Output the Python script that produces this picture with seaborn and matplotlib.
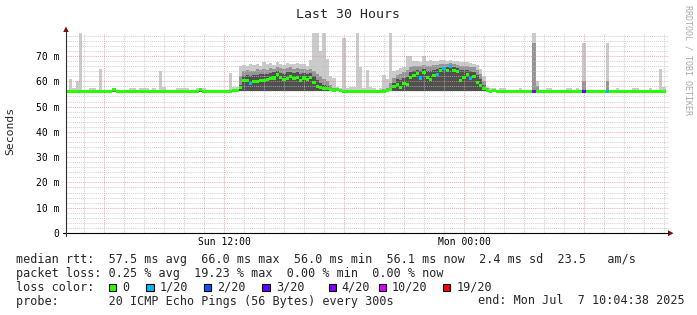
import matplotlib
matplotlib.use("Agg")
import numpy as np
import pandas as pd
import seaborn as sns
import matplotlib.pyplot as plt
from matplotlib.patches import Polygon, Rectangle
from matplotlib.lines import Line2D
from datetime import datetime, timedelta

# ---------------- data (10-minute steps, 30 hours) ----------------
END_TIME = datetime(2025, 7, 7, 10, 4, 38)
SPAN_HOURS = 30
STEP_MINUTES = 10

median_ms = [
    56.1, 56.1, 56.1, 56.1, 56.1, 56.1, 56.1, 56.1, 56.1, 56.1,
    56.1, 56.1, 56.1, 56.1, 56.6, 56.1, 56.1, 56.1, 56.1, 56.1,
    56.1, 56.1, 56.1, 56.1, 56.1, 56.1, 56.1, 56.1, 56.1, 56.1,
    56.1, 56.1, 56.1, 56.1, 56.1, 56.1, 56.1, 56.1, 56.1, 56.1,
    56.6, 56.1, 56.1, 56.1, 56.1, 56.1, 56.1, 56.1, 56.1, 56.1,
    56.2, 56.5, 57.5, 60.5, 60.2, 59.0, 59.8, 60.0, 60.4, 60.5,
    60.8, 61.0, 61.3, 62.8, 61.5, 60.8, 61.2, 61.8, 61.0, 61.5,
    60.5, 61.3, 60.8, 61.5, 59.5, 58.0, 57.5, 57.3, 57.2, 56.6,
    56.3, 56.8, 56.2, 56.1, 56.1, 56.1, 56.1, 56.1, 56.1, 56.1,
    56.1, 56.1, 56.1, 56.1, 56.1, 56.1, 56.4, 56.8, 58.0, 58.9,
    57.6, 59.3, 58.7, 61.5, 62.4, 63.2, 61.3, 63.6, 61.5, 60.6,
    62.2, 62.8, 64.2, 64.9, 64.2, 65.9, 64.2, 63.9, 60.2, 61.5,
    62.6, 61.0, 62.0, 59.7, 58.4, 57.0, 56.2, 56.1, 56.5, 56.1,
    56.1, 56.1, 56.1, 56.1, 56.1, 56.1, 56.1, 56.1, 56.1, 56.1,
    56.1, 56.1, 56.1, 56.1, 56.1, 56.1, 56.1, 56.1, 56.1, 56.1,
    56.1, 56.1, 56.1, 56.1, 56.1, 56.1, 56.1, 56.1, 56.1, 56.1,
    56.1, 56.1, 56.1, 56.1, 56.1, 56.1, 56.1, 56.1, 56.1, 56.1,
    56.1, 56.1, 56.1, 56.1, 56.1, 56.1, 56.1, 56.1, 56.1, 56.1,
]

rtt_min = [
    55.8, 55.8, 55.8, 55.8, 55.8, 55.8, 55.8, 55.8, 55.8, 55.8,
    55.8, 55.8, 55.8, 55.8, 55.8, 55.8, 55.8, 55.8, 55.8, 55.8,
    55.8, 55.8, 55.8, 55.8, 55.8, 55.8, 55.8, 55.8, 55.8, 55.8,
    55.8, 55.8, 55.8, 55.8, 55.8, 55.8, 55.8, 55.8, 55.8, 55.8,
    55.8, 55.8, 55.8, 55.8, 55.8, 55.8, 55.8, 55.8, 55.8, 55.8,
    55.8, 55.8, 56.2, 56.2, 56.2, 56.2, 56.2, 56.2, 56.2, 56.2,
    56.2, 56.2, 56.2, 56.2, 56.2, 56.2, 56.2, 56.2, 56.2, 56.2,
    56.2, 56.2, 56.2, 56.2, 56.2, 56.2, 56.2, 56.2, 56.2, 56.2,
    56.2, 56.2, 56.2, 55.8, 55.8, 55.8, 55.8, 55.8, 55.8, 55.8,
    55.8, 55.8, 55.8, 55.8, 55.8, 55.8, 55.8, 56.2, 56.2, 56.2,
    56.2, 56.2, 56.2, 56.2, 56.2, 56.2, 56.2, 56.2, 56.2, 56.2,
    56.2, 56.2, 56.2, 56.2, 56.2, 56.2, 56.2, 56.2, 56.2, 56.2,
    56.2, 56.2, 56.2, 56.2, 56.2, 56.2, 56.2, 55.8, 55.8, 55.8,
    55.8, 55.8, 55.8, 55.8, 55.8, 55.8, 55.8, 55.8, 55.8, 55.8,
    55.8, 55.8, 55.8, 55.8, 55.8, 55.8, 55.8, 55.8, 55.8, 55.8,
    55.8, 55.8, 55.8, 55.8, 55.8, 55.8, 55.8, 55.8, 55.8, 55.8,
    55.8, 55.8, 55.8, 55.8, 55.8, 55.8, 55.8, 55.8, 55.8, 55.8,
    55.8, 55.8, 55.8, 55.8, 55.8, 55.8, 55.8, 55.8, 55.8, 55.8,
]

rtt_p75 = [
    56.2, 56.2, 56.2, 56.2, 56.2, 56.2, 56.2, 56.2, 56.2, 56.2,
    56.2, 56.2, 56.2, 56.2, 56.2, 56.2, 56.2, 56.2, 56.2, 56.2,
    56.2, 56.2, 56.2, 56.2, 56.2, 56.2, 56.2, 56.2, 56.2, 56.2,
    56.2, 56.2, 56.2, 56.2, 56.2, 56.2, 56.2, 56.2, 56.2, 56.2,
    56.2, 56.2, 56.2, 56.2, 56.2, 56.2, 56.2, 56.2, 56.2, 56.2,
    56.2, 56.8, 58.5, 62.0, 62.5, 62.0, 62.3, 62.5, 62.8, 63.0,
    62.8, 63.2, 63.5, 64.0, 63.4, 63.0, 63.5, 63.8, 63.2, 63.6,
    63.0, 63.4, 63.0, 63.2, 62.0, 60.5, 59.5, 58.5, 58.0, 57.2,
    56.8, 57.0, 56.4, 56.3, 56.2, 56.2, 56.2, 56.2, 56.2, 56.2,
    56.2, 56.2, 56.2, 56.2, 56.2, 56.4, 56.8, 57.5, 59.5, 61.0,
    60.5, 61.5, 61.8, 63.5, 64.0, 64.5, 64.0, 65.0, 64.2, 64.0,
    64.5, 64.8, 65.2, 65.8, 65.5, 66.5, 65.5, 65.2, 64.5, 64.5,
    64.5, 64.0, 63.8, 62.5, 61.0, 58.5, 56.6, 56.2, 56.2, 56.2,
    56.2, 56.2, 56.2, 56.2, 56.2, 56.2, 56.2, 56.2, 56.2, 56.2,
    56.2, 56.2, 56.2, 56.2, 56.2, 56.2, 56.2, 56.2, 56.2, 56.2,
    56.2, 56.2, 56.2, 56.2, 56.2, 56.2, 56.2, 56.2, 56.2, 56.2,
    56.2, 56.2, 56.2, 56.2, 56.2, 56.2, 56.2, 56.2, 56.2, 56.2,
    56.2, 56.2, 56.2, 56.2, 56.2, 56.2, 56.2, 56.2, 56.2, 56.2,
]

rtt_p90 = [
    56.4, 56.4, 56.4, 56.4, 56.4, 56.4, 56.4, 56.4, 56.4, 56.4,
    56.4, 56.4, 56.4, 56.4, 56.4, 56.4, 56.4, 56.4, 56.4, 56.4,
    56.4, 56.4, 56.4, 56.4, 56.4, 56.4, 56.4, 56.4, 56.4, 56.4,
    56.4, 56.4, 56.4, 56.4, 56.4, 56.4, 56.4, 56.4, 56.4, 56.4,
    56.4, 56.4, 56.4, 56.4, 56.4, 56.4, 56.4, 56.4, 56.4, 56.4,
    56.4, 57.0, 62.0, 64.0, 64.5, 64.0, 64.2, 64.8, 64.5, 65.0,
    64.6, 65.2, 65.0, 65.5, 65.2, 64.8, 65.3, 65.5, 65.0, 65.4,
    64.8, 65.0, 64.6, 64.8, 64.0, 63.0, 62.0, 61.0, 60.0, 58.5,
    57.5, 57.3, 56.6, 56.5, 56.4, 56.4, 56.4, 56.4, 56.4, 56.4,
    56.4, 56.4, 56.4, 56.4, 56.4, 56.8, 57.5, 59.5, 61.5, 62.5,
    63.0, 63.5, 64.5, 65.5, 66.0, 66.2, 66.0, 66.5, 66.0, 66.2,
    66.5, 66.4, 66.8, 67.0, 66.8, 67.3, 66.8, 66.5, 66.2, 66.0,
    66.0, 65.8, 65.5, 64.5, 63.0, 60.0, 57.2, 56.4, 56.4, 56.4,
    56.4, 56.4, 56.4, 56.4, 56.4, 56.4, 56.4, 56.4, 56.4, 56.4,
    75.0, 58.0, 56.4, 56.4, 56.4, 56.4, 56.4, 56.4, 56.4, 56.4,
    56.4, 56.4, 56.4, 56.4, 56.4, 60.0, 56.4, 56.4, 56.4, 56.4,
    56.4, 56.4, 60.0, 56.4, 56.4, 56.4, 56.4, 56.4, 56.4, 56.4,
    56.4, 56.4, 56.4, 56.4, 56.4, 56.4, 56.4, 56.4, 56.4, 56.4,
]

rtt_max = [
    56.5, 60.9, 57.2, 60.3, 79.1, 56.5, 56.5, 57.2, 57.2, 56.5,
    64.8, 56.5, 56.5, 56.5, 57.2, 56.5, 56.5, 56.5, 56.5, 57.2,
    57.2, 56.5, 57.2, 57.2, 57.2, 56.5, 57.2, 56.5, 63.9, 57.7,
    56.5, 56.5, 56.5, 57.2, 57.2, 57.2, 57.2, 56.5, 56.5, 57.2,
    56.5, 57.2, 56.5, 56.5, 56.5, 56.5, 56.5, 56.5, 56.5, 63.2,
    57.6, 57.6, 66.0, 66.5, 66.0, 66.8, 66.5, 67.0, 66.2, 67.5,
    66.8, 67.2, 66.5, 67.5, 67.0, 66.6, 67.2, 67.0, 66.8, 67.4,
    66.8, 67.0, 66.2, 68.5, 79.1, 79.1, 72.0, 79.1, 69.0, 62.0,
    61.3, 57.8, 57.2, 77.0, 57.2, 57.6, 57.6, 79.1, 65.5, 57.5,
    64.5, 57.6, 57.5, 56.5, 57.2, 62.5, 61.0, 79.1, 64.0, 64.5,
    65.2, 65.5, 70.0, 70.0, 68.0, 68.2, 67.8, 70.0, 68.0, 68.3,
    68.0, 68.2, 68.5, 68.6, 68.2, 68.5, 68.2, 68.0, 67.8, 67.8,
    67.5, 67.2, 67.0, 66.5, 65.0, 62.0, 57.8, 57.2, 57.2, 56.5,
    57.2, 57.2, 56.5, 56.5, 56.5, 56.5, 57.2, 56.5, 56.5, 56.5,
    79.1, 60.0, 56.5, 56.5, 57.2, 57.2, 56.5, 56.5, 56.5, 56.5,
    57.2, 57.2, 56.5, 57.2, 56.5, 75.0, 56.5, 56.5, 56.5, 56.5,
    56.5, 56.5, 75.0, 56.5, 56.5, 57.2, 56.5, 56.5, 56.5, 56.5,
    57.2, 57.2, 56.5, 56.5, 56.5, 57.2, 56.5, 56.5, 65.0, 57.7,
]

loss_count = [
    0, 0, 0, 0, 0, 0, 0, 0, 0, 0,
    0, 0, 0, 0, 0, 0, 0, 0, 0, 0,
    0, 0, 0, 0, 0, 0, 0, 0, 0, 0,
    0, 0, 0, 0, 0, 0, 0, 0, 0, 0,
    0, 0, 0, 0, 0, 0, 0, 0, 0, 0,
    0, 0, 0, 0, 0, 1, 0, 0, 0, 0,
    0, 0, 0, 0, 0, 0, 0, 0, 0, 0,
    0, 0, 0, 0, 0, 0, 0, 0, 0, 0,
    0, 0, 0, 0, 0, 0, 0, 0, 0, 0,
    0, 0, 0, 0, 0, 0, 0, 0, 0, 0,
    0, 0, 0, 0, 0, 0, 1, 0, 0, 0,
    0, 1, 0, 1, 0, 1, 0, 0, 0, 0,
    0, 1, 0, 0, 0, 0, 0, 0, 0, 0,
    0, 0, 0, 0, 0, 0, 0, 0, 0, 0,
    4, 0, 0, 0, 0, 0, 0, 0, 0, 0,
    0, 0, 0, 0, 0, 3, 0, 0, 0, 0,
    0, 0, 1, 0, 0, 0, 0, 0, 0, 0,
    0, 0, 0, 0, 0, 0, 0, 0, 0, 0,
]

loss_levels = [0, 1, 2, 3, 4, 10, 19]
loss_labels = ["0", "1/20", "2/20", "3/20", "4/20", "10/20", "19/20"]
loss_colors = ["#26ff00", "#00b8ff", "#0059ff", "#5e00ff", "#7e00ff", "#dd00ff", "#ff0000"]

y_ticks = [0, 10, 20, 30, 40, 50, 60, 70]
y_tick_labels = ["0", "10 m", "20 m", "30 m", "40 m", "50 m", "60 m", "70 m"]

title = "Last 30 Hours"
y_label = "Seconds"
stats_line1 = "median rtt:  57.5 ms avg  66.0 ms max  56.0 ms min  56.1 ms now  2.4 ms sd  23.5   am/s"
stats_line2 = "packet loss: 0.25 % avg  19.23 % max  0.00 % min  0.00 % now"
loss_title = "loss color:"
probe_line = "probe:       20 ICMP Echo Pings (56 Bytes) every 300s"
end_line = "end: Mon Jul  7 10:04:38 2025"
watermark = "RRDTOOL / TOBI OETIKER"

# ---------------- figure ----------------
W, H = 697, 315
sns.set_theme(style="white")
plt.rcParams["font.family"] = ["DejaVu Sans Mono", "DejaVu Sans"]

MONO = "DejaVu Sans Mono"
start_time = END_TIME - timedelta(hours=SPAN_HOURS)
step_h = STEP_MINUTES / 60.0

df = pd.DataFrame({
    "median": median_ms, "lo": rtt_min, "p75": rtt_p75,
    "p90": rtt_p90, "hi": rtt_max, "loss": loss_count,
})
df["t"] = np.arange(len(df)) * step_h

def fx(px):
    return px / W

def fy(py):
    return 1 - py / H

fig = plt.figure(figsize=(W / 100, H / 100), dpi=100)
fig.patch.set_facecolor("white")
ax = fig.add_axes([fx(65.5), fy(233), (668.5 - 65.5) / W, 200 / H])
ax.set_facecolor("white")

t_edges = np.append(df["t"].values, df["t"].values[-1] + step_h)

def ext(col):
    v = df[col].values
    return np.append(v, v[-1])

# smoke bands
ax.fill_between(t_edges, ext("lo"), ext("hi"), step="post", color="#cbcbcb", lw=0, zorder=1)
ax.fill_between(t_edges, ext("lo"), ext("p90"), step="post", color="#959595", lw=0, zorder=1.1)
ax.fill_between(t_edges, ext("lo"), ext("p75"), step="post", color="#505050", lw=0, zorder=1.2)

# median as thin band per step, coloured by loss
HALF = 0.6
ax.fill_between(t_edges, ext("median") - HALF, ext("median") + HALF, step="post",
                color=loss_colors[0], lw=0, zorder=2)

def color_for(l):
    c = loss_colors[0]
    for lv, col in zip(loss_levels, loss_colors):
        if l >= lv:
            c = col
    return c

lossy = df[df["loss"] > 0]
ax.bar(lossy["t"], 2 * HALF, bottom=lossy["median"] - HALF, width=step_h, align="edge",
       color=[color_for(l) for l in lossy["loss"]], linewidth=0, zorder=2.1)

# axes limits
total_w_h = SPAN_HOURS * (668.5 - 65.5) / 600.0
ax.set_xlim(0, total_w_h)
ax.set_ylim(0, 79.1)

# x ticks (hours since start)
first_hour = start_time.replace(minute=0, second=0) + timedelta(hours=1)
hour_pos, major_pos, major_lab = [], [], []
h = first_hour
while h <= END_TIME:
    pos = (h - start_time).total_seconds() / 3600
    if h.hour % 6 == 0:
        major_pos.append(pos)
        major_lab.append(h.strftime("%a %H:%M") if h.hour % 12 == 0 else "")
    else:
        hour_pos.append(pos)
    h += timedelta(hours=1)
ax.set_xticks(major_pos)
ax.set_xticklabels(major_lab)
ax.set_xticks(hour_pos, minor=True)

ax.set_yticks(y_ticks)
ax.set_yticklabels(y_tick_labels)
ax.set_yticks([v for v in range(2, 80, 2) if v % 10 != 0], minor=True)

ax.set_axisbelow("line")
ax.grid(which="major", color="#f08a8a", alpha=0.7, linestyle=(0, (1, 1)), linewidth=0.75)
ax.grid(which="minor", color="#c0c0c0", alpha=0.7, linestyle=(0, (1, 1)), linewidth=0.75)

for s in ax.spines.values():
    s.set_visible(False)
ax.tick_params(which="both", length=0)
ax.tick_params(axis="y", pad=4.5, labelsize=7, labelcolor="#000000")
ax.tick_params(axis="x", pad=3, labelsize=7, labelcolor="#000000")
for lab in ax.get_xticklabels() + ax.get_yticklabels():
    lab.set_family(MONO)

# axis lines and arrows (figure pixel coordinates)
fig.add_artist(Line2D([fx(63), fx(668)], [fy(233.2), fy(233.2)], color="black", lw=0.8))
fig.add_artist(Line2D([fx(66), fx(66)], [fy(236), fy(31)], color="#303030", lw=0.8))
fig.add_artist(Polygon([[fx(668), fy(230.2)], [fx(668), fy(236.2)], [fx(673.5), fy(233.2)]],
                       closed=True, color="#7a1010", lw=0))
fig.add_artist(Polygon([[fx(63.2), fy(32)], [fx(68.8), fy(32)], [fx(66), fy(26.5)]],
                       closed=True, color="#7a1010", lw=0))

# texts
fig.text(fx(348), fy(18.5), title, ha="center", va="baseline", fontsize=9.5, family=MONO)
fig.text(fx(10.5), fy(131), y_label, ha="center", va="center", rotation=90, fontsize=8.2, family=MONO)
fig.text(fx(688), fy(5), watermark, ha="center", va="top", rotation=270, fontsize=6,
         family=MONO, color="#a8a8a8")

LS = 8.5
fig.text(fx(16), fy(263), stats_line1, ha="left", va="baseline", fontsize=LS, family=MONO)
fig.text(fx(16), fy(277), stats_line2, ha="left", va="baseline", fontsize=LS, family=MONO)
fig.text(fx(16), fy(291), loss_title, ha="left", va="baseline", fontsize=LS, family=MONO)
fig.text(fx(16), fy(304.5), probe_line, ha="left", va="baseline", fontsize=LS, family=MONO)
fig.text(fx(478), fy(304.5), end_line, ha="left", va="baseline", fontsize=LS, family=MONO)

box_x = [108.5, 146.0, 203.5, 262.0, 328.5, 378.5, 442.5]
label_x = [122.0, 160.0, 217.5, 276.0, 341.5, 392.0, 456.5]
for bx, lx, col, lab in zip(box_x, label_x, loss_colors, loss_labels):
    fig.add_artist(Rectangle((fx(bx), fy(291)), 7.5 / W, 7.5 / H, facecolor=col,
                             edgecolor="black", lw=0.8))
    fig.text(fx(lx), fy(291), lab, ha="left", va="baseline", fontsize=LS, family=MONO)

fig.savefig("out.png", dpi=100, facecolor="white")
